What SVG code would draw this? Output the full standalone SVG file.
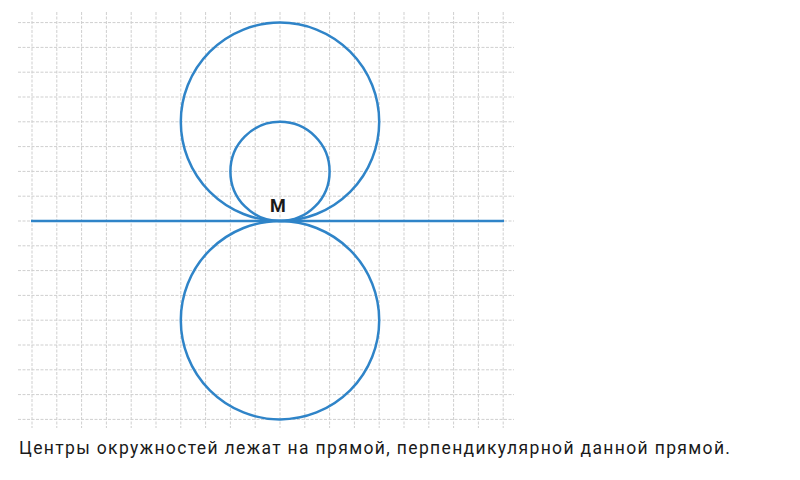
<svg xmlns="http://www.w3.org/2000/svg" width="800" height="480" viewBox="0 0 800 480">
<style>
.g{stroke:#cfcfcf;stroke-width:1;stroke-dasharray:3,1.5;fill:none}
.c{stroke:#2f84c8;stroke-width:2.5;fill:none}
.t{font-family:Roboto,"Liberation Sans",sans-serif;fill:#1a1a1a}
</style>
<rect width="800" height="480" fill="#fff"/>
<g id="grid">
<path class="g" d="M32 12V428M56.8 12V428M81.6 12V428M106.4 12V428M131.2 12V428M156 12V428M180.8 12V428M205.6 12V428M230.4 12V428M255.2 12V428M280 12V428M304.8 12V428M329.6 12V428M354.4 12V428M379.2 12V428M404 12V428M428.8 12V428M453.6 12V428M478.4 12V428M503.2 12V428"/>
<path class="g" d="M18 22.6H514M18 47.4H514M18 72.2H514M18 97H514M18 121.8H514M18 146.6H514M18 171.4H514M18 196.2H514M18 221H514M18 245.8H514M18 270.6H514M18 295.4H514M18 320.2H514M18 345H514M18 369.8H514M18 394.6H514M18 419.4H514"/>
</g>
<g id="connectors">
<line class="c" x1="31" y1="221" x2="504" y2="221"/>
</g>
<g id="circle-top-big"><circle class="c" cx="280" cy="121.8" r="99.2"/></g>
<g id="circle-top-small"><circle class="c" cx="280" cy="171.4" r="49.6"/></g>
<g id="circle-bottom"><circle class="c" cx="280" cy="320.2" r="99.2"/></g>
<g id="point-M"><text class="t" x="278" y="211.5" font-size="18" font-weight="bold" text-anchor="middle">M</text></g>
<g id="caption"><text class="t" x="19" y="453.5" font-size="17.5" textLength="711" lengthAdjust="spacing">Центры окружностей лежат на прямой, перпендикулярной данной прямой.</text></g>
</svg>
